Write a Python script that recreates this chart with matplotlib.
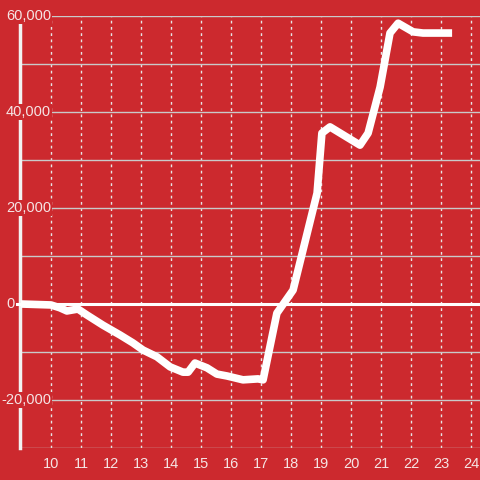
import numpy as np
import matplotlib.pyplot as plt
import matplotlib.transforms as mtransforms
from matplotlib.ticker import MultipleLocator

# Data (hour of day, value)
hours = [9.0, 10.0, 10.3, 10.53, 10.9, 11.2, 11.73, 12.3, 12.73, 13.07, 13.53,
         13.97, 14.4, 14.57, 14.8, 15.2, 15.53, 15.87, 16.4, 16.9, 17.07,
         17.53, 18.07, 18.87, 19.03, 19.3, 20.3, 20.57, 20.97, 21.3, 21.57,
         22.07, 22.4, 23.37]
values = [0, -200, -800, -1450, -1050, -2300, -4400, -6450, -8100, -9600, -11000,
          -13100, -14200, -14200, -12300, -13300, -14600, -15000, -15800, -15600, -15800,
          -1900, 2900, 23100, 35600, 36900, 33100, 35600, 45200, 56450, 58500,
          56700, 56450, 56450]

x_ticks = list(range(10, 25))
y_ticks = [-20000, 0, 20000, 40000, 60000]
y_labels = ['-20,000', '0', '20,000', '40,000', '60,000']

bg = '#cc292e'
txt = '#f5e4e4'

plt.rcParams['font.family'] = ['Liberation Sans', 'DejaVu Sans']

fig = plt.figure(figsize=(4.8, 4.8), dpi=100, facecolor=bg)
ax = fig.add_axes([20 / 480, 32 / 480, 460 / 480, 432 / 480], facecolor=bg)

ax.plot(hours, values, color='white', lw=5.5, solid_joinstyle='round',
        solid_capstyle='butt', zorder=3)
ax.axhline(0, color='white', lw=2.2, xmin=-0.01, clip_on=False, zorder=2.7)

ax.set_xlim(8.967, 24.3)
ax.set_ylim(-30000, 60000)

ax.set_xticks(x_ticks)
ax.set_yticks(y_ticks)
ax.yaxis.set_minor_locator(MultipleLocator(10000))
ax.set_yticklabels([])

ax.grid(axis='x', color='#e6e6e6', lw=1, linestyle=(0, (2, 2.5)))
ax.grid(axis='y', which='both', color='#c9c9c9', lw=1)

for s in ['top', 'right', 'bottom']:
    ax.spines[s].set_visible(False)
ax.spines['left'].set_color('#f2f2f2')
ax.spines['left'].set_linewidth(2.5)

ax.tick_params(axis='x', length=0, pad=6.5, labelsize=10.5, labelcolor=txt)
ax.tick_params(axis='y', which='both', length=0)

# y labels sit over the left spine, boxed in the background colour
trans = mtransforms.blended_transform_factory(ax.transAxes, ax.transData)
for v, lab in zip(y_ticks, y_labels):
    xpos = -5 / 460 if lab == '0' else 31 / 460
    ax.text(xpos, v, lab, transform=trans, ha='right', va='center',
            fontsize=10.5, color=txt, zorder=2.8, clip_on=False,
            bbox=dict(facecolor=bg, edgecolor='none', pad=1.0))

fig.savefig('out.png', dpi=100, facecolor=bg)
